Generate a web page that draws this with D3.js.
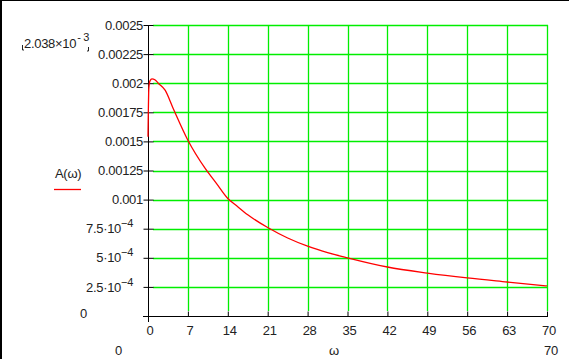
<!DOCTYPE html>
<html>
<head>
<meta charset="utf-8">
<script src="https://cdn.jsdelivr.net/npm/d3@7"></script>
<style>
  body { margin: 0; background: #fff; }
  svg { display: block; }
  text { font-family: "Liberation Sans Narrow", "Arial Narrow", "Liberation Sans", sans-serif; font-size: 13px; fill: #222; letter-spacing: -0.3px; }
</style>
</head>
<body>
<script>
const omega = [0, 0.15, 0.35, 0.7, 1.2, 1.8, 3, 4.4, 7, 10, 12, 14, 15.6, 17.5, 21, 24.5, 28, 31.5, 35, 42, 49, 56, 63, 70];
const amp = [0.00154, 0.00196, 0.00202, 0.002038, 0.00203, 0.002, 0.00194, 0.001785, 0.00151, 0.00127, 0.00114, 0.00101,
             0.000945, 0.00087, 0.00076, 0.00067, 0.0006, 0.000545, 0.0005, 0.000421, 0.000369, 0.000327, 0.000292, 0.000258];

const xTicks = [0, 7, 14, 21, 28, 35, 42, 49, 56, 63, 70];
const yTicks = [0.0025, 0.00225, 0.002, 0.00175, 0.0015, 0.00125, 0.001, 0.00075, 0.0005, 0.00025];
// label text: [mantissa, exponent]
const yTickLabels = [["0.0025"], ["0.00225"], ["0.002"], ["0.00175"], ["0.0015"], ["0.00125"], ["0.001"],
                     ["7.5\u00b710", "\u22124"], ["5\u00b710", "\u22124"], ["2.5\u00b710", "\u22124"]];

const w = 569, h = 359;
const pLeft = 148, pRight = 547, pTop = 25, pBottom = 316;

const svg = d3.select("body").append("svg").attr("width", w).attr("height", h);

// frame (top and left edge only)
svg.append("line").attr("x1", 0).attr("x2", w).attr("y1", 0.5).attr("y2", 0.5).attr("stroke", "#000");
svg.append("line").attr("x1", 1).attr("x2", 1).attr("y1", 0).attr("y2", h).attr("stroke", "#000").attr("stroke-width", 2);

const x = d3.scaleLinear().domain([0, 70]).range([pLeft, pRight]);
const y = d3.scaleLinear().domain([0, 0.0025]).range([pBottom, pTop]);

// green grid
svg.selectAll(".hgrid")
    .data(yTicks)
    .enter().append("line")
    .attr("class", "hgrid")
    .attr("x1", pLeft + 5).attr("x2", pRight + 1)
    .attr("y1", function (d) { return Math.round(y(d)) + 0.5; })
    .attr("y2", function (d) { return Math.round(y(d)) + 0.5; })
    .attr("stroke", "#00ee00").attr("stroke-width", 1.3);

svg.selectAll(".vgrid")
    .data(xTicks.slice(1))
    .enter().append("line")
    .attr("class", "vgrid")
    .attr("x1", function (d) { return Math.round(x(d)) + 0.5; })
    .attr("x2", function (d) { return Math.round(x(d)) + 0.5; })
    .attr("y1", pTop).attr("y2", pBottom - 5)
    .attr("stroke", "#00ee00").attr("stroke-width", 1.3);

// axes
const yAxis = d3.axisLeft(y).tickValues(yTicks.concat([0])).tickSize(5).tickFormat("");
svg.append("g")
    .attr("transform", "translate(" + (pLeft + 0.5) + ",0)")
    .call(yAxis)
    .call(function (g) {
        g.select(".domain").attr("d", "M0," + pTop + "V" + (pBottom + 6));
        g.selectAll(".tick line").attr("x2", -5).attr("x1", 5);
    });

const xAxis = d3.axisBottom(x).tickValues(xTicks).tickSize(-5).tickFormat("");
svg.append("g")
    .attr("transform", "translate(0," + (pBottom + 0.5) + ")")
    .call(xAxis)
    .call(function (g) {
        g.select(".domain").attr("d", "M" + (pLeft - 5) + ",0H" + (pRight + 1));
    });
svg.selectAll("g .tick line, g .domain").attr("stroke", "#000");

// y tick labels
const yl = svg.selectAll(".yLabel")
    .data(yTicks)
    .enter().append("text")
    .attr("class", "yLabel")
    .attr("x", function (d, i) { return yTickLabels[i].length > 1 ? 133 : 143; })
    .attr("y", function (d) { return y(d); })
    .attr("dy", "0.36em")
    .style("text-anchor", "end");
yl.append("tspan").text(function (d, i) { return yTickLabels[i][0]; });
yl.filter(function (d, i) { return yTickLabels[i].length > 1; })
    .append("tspan")
    .attr("dy", "-0.55em")
    .style("font-size", "11px")
    .text(function (d) { return yTickLabels[yTicks.indexOf(d)][1]; });

// x tick labels
svg.selectAll(".xLabel")
    .data(xTicks)
    .enter().append("text")
    .attr("class", "xLabel")
    .attr("x", function (d) { return x(d) + 2; })
    .attr("y", 335)
    .style("text-anchor", "middle")
    .text(function (d) { return d; });

// curve
const line = d3.line()
    .x(function (d, i) { return x(omega[i]); })
    .y(function (d) { return y(d); })
    .curve(d3.curveMonotoneX);

svg.append("path")
    .datum(amp)
    .attr("fill", "none")
    .attr("stroke", "#ff0000")
    .attr("stroke-width", 1.3)
    .attr("d", line);

// Mathcad limit labels
const topLim = svg.append("text").attr("x", 24).attr("y", 48);
topLim.append("tspan").text("2.038\u00d710");
topLim.append("tspan").attr("dy", "-0.6em").attr("dx", 1).style("font-size", "11px").text("- 3");
svg.append("path").attr("d", "M22.5,45V50H24").attr("fill", "none").attr("stroke", "#222");
svg.append("path").attr("d", "M88.5,47V51H87").attr("fill", "none").attr("stroke", "#222");

svg.append("text").attr("x", 80).attr("y", 318).text("0");
svg.append("text").attr("x", 115).attr("y", 355).text("0");
svg.append("text").attr("x", 544).attr("y", 355).text("70");
svg.append("text").attr("x", 334).attr("y", 355).style("text-anchor", "middle").text("\u03c9");

// legend
svg.append("text").attr("x", 55).attr("y", 178).text("A(\u03c9)");
svg.append("line").attr("x1", 54).attr("x2", 81).attr("y1", 189.5).attr("y2", 189.5)
    .attr("stroke", "#ff0000").attr("stroke-width", 1.3);
</script>
</body>
</html>
